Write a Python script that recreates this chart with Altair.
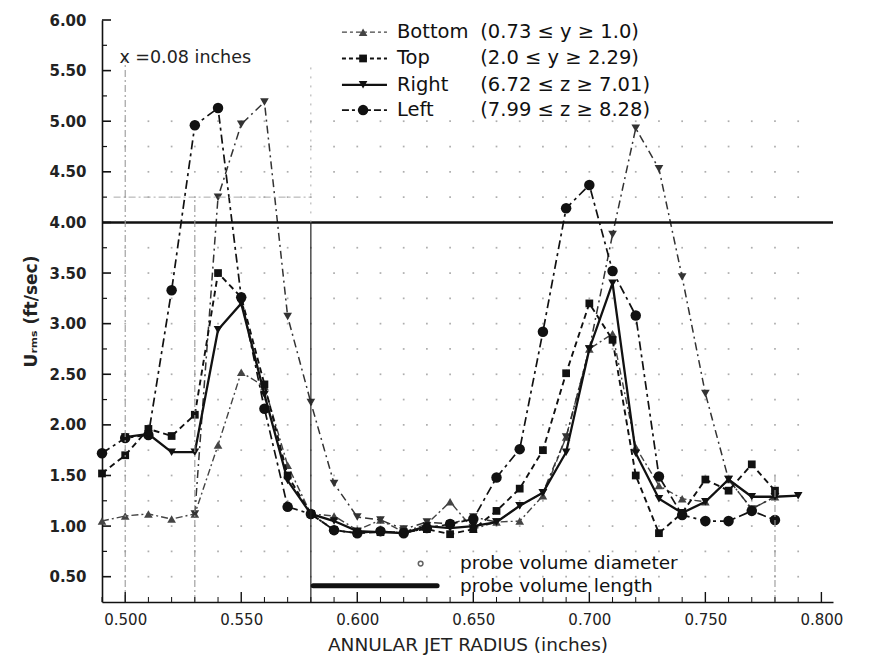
import altair as alt
import pandas as pd

FONT = "DejaVu Sans"
W, H = 731, 582
X_DOMAIN = [0.49, 0.805]
Y_DOMAIN = [0.25, 6.0]

# ---------------- data ----------------
bottom_x = [0.49, 0.50, 0.51, 0.52, 0.53, 0.54, 0.55, 0.56, 0.57, 0.58, 0.59, 0.60, 0.61, 0.62, 0.63,
            0.64, 0.65, 0.66, 0.67, 0.68, 0.69, 0.70, 0.71, 0.72, 0.73, 0.74, 0.75, 0.76, 0.77, 0.78]
bottom_y = [1.05, 1.10, 1.12, 1.07, 1.12, 1.80, 2.52, 2.38, 1.60, 1.12, 1.10, 0.96, 1.06, 0.94, 1.02,
            1.24, 0.97, 1.04, 1.05, 1.30, 1.88, 2.75, 2.90, 1.78, 1.40, 1.27, 1.24, 1.46, 1.17, 1.29]

top_x = [0.49, 0.50, 0.51, 0.52, 0.53, 0.54, 0.55, 0.56, 0.57, 0.58, 0.59, 0.60, 0.61, 0.62, 0.63,
         0.64, 0.65, 0.66, 0.67, 0.68, 0.69, 0.70, 0.71, 0.72, 0.73, 0.74, 0.75, 0.76, 0.77, 0.78]
top_y = [1.52, 1.70, 1.96, 1.89, 2.10, 3.50, 3.26, 2.40, 1.50, 1.12, 0.96, 0.93, 0.94, 0.94, 0.97,
         0.92, 0.97, 1.15, 1.37, 1.75, 2.51, 3.20, 2.84, 1.50, 0.93, 1.13, 1.46, 1.35, 1.61, 1.35]

right_x = [0.50, 0.51, 0.52, 0.53, 0.54, 0.55, 0.56, 0.57, 0.58, 0.59, 0.60, 0.61, 0.62, 0.63, 0.64,
           0.65, 0.66, 0.67, 0.68, 0.69, 0.70, 0.71, 0.72, 0.73, 0.74, 0.75, 0.76, 0.77, 0.78, 0.79]
right_y = [1.88, 1.91, 1.73, 1.73, 2.94, 3.20, 2.30, 1.45, 1.12, 1.05, 0.95, 0.94, 0.93, 1.00, 0.98,
           1.00, 1.04, 1.20, 1.33, 1.73, 2.75, 3.40, 1.72, 1.27, 1.13, 1.24, 1.46, 1.29, 1.29, 1.30]

left_x = [0.49, 0.50, 0.51, 0.52, 0.53, 0.54, 0.55, 0.56, 0.57, 0.58, 0.59, 0.60, 0.61, 0.62, 0.63,
          0.64, 0.65, 0.66, 0.67, 0.68, 0.69, 0.70, 0.71, 0.72, 0.73, 0.74, 0.75, 0.76, 0.77, 0.78]
left_y = [1.72, 1.87, 1.90, 3.33, 4.96, 5.13, 3.26, 2.16, 1.19, 1.12, 0.96, 0.93, 0.95, 0.93, 0.98,
          1.02, 1.07, 1.48, 1.76, 2.92, 4.14, 4.37, 3.52, 3.08, 1.49, 1.11, 1.05, 1.05, 1.15, 1.06]

# second triangle-down trace (dash-dot, high peaks), drawn without a legend entry
peak_x = [0.53, 0.54, 0.55, 0.56, 0.57, 0.58, 0.59, 0.60, 0.61, 0.62, 0.63, 0.64, 0.65,
          0.66, 0.67, 0.68, 0.69, 0.70, 0.71, 0.72, 0.73, 0.74, 0.75, 0.76, 0.77, 0.78]
peak_y = [1.12, 4.25, 4.97, 5.19, 3.07, 2.22, 1.42, 1.09, 1.06, 0.97, 1.04, 1.02, 1.09,
          1.04, 1.20, 1.33, 1.88, 2.75, 3.88, 4.93, 4.53, 3.46, 2.31, 1.46, 1.17, 1.29]

legend_names = ["Bottom", "Top", "Right", "Left"]
legend_ranges = ["(0.73 \u2264 y \u2265 1.0)", "(2.0 \u2264 y \u2265 2.29)",
                 "(6.72 \u2264 z \u2265 7.01)", "(7.99 \u2264 z \u2265 8.28)"]
legend_rows_y = [5.88, 5.62, 5.36, 5.11]
legend_line_x = [0.5934, 0.6128]
legend_mark_x = 0.6025
legend_name_x = 0.6171
legend_range_x = 0.6530

x_labels = [0.50, 0.55, 0.60, 0.65, 0.70, 0.75, 0.80]
y_labels = [0.5, 1.0, 1.5, 2.0, 2.5, 3.0, 3.5, 4.0, 4.5, 5.0, 5.5, 6.0]
y_minor = [0.75, 1.25, 1.75, 2.25, 2.75, 3.25, 3.75, 4.25, 4.75, 5.25, 5.75]
x_minor = [0.49, 0.51, 0.52, 0.53, 0.54, 0.56, 0.57, 0.58, 0.59, 0.61, 0.62, 0.63, 0.64, 0.66, 0.67,
           0.68, 0.69, 0.71, 0.72, 0.73, 0.74, 0.76, 0.77, 0.78, 0.79]
# faint graph-paper dots
paper_x = [0.50, 0.51, 0.52, 0.53, 0.54, 0.55, 0.56, 0.57, 0.58, 0.59, 0.60, 0.61, 0.62, 0.63, 0.64,
           0.65, 0.66, 0.67, 0.68, 0.69, 0.70, 0.71, 0.72, 0.73, 0.74, 0.75, 0.76, 0.77, 0.78, 0.79]
paper_y = [0.50, 0.75, 1.00, 1.25, 1.50, 1.75, 2.00, 2.25, 2.50, 2.75, 3.00, 3.25, 3.50, 3.75,
           4.25, 4.50, 4.75, 5.00]

ref_level = 4.00
note_text = "x =0.08 inches"
note_pos = (0.4975, 5.62)
probe_bar = (0.581, 0.6344, 0.41)
probe_dot = (0.6273, 0.63)
probe_texts = ["probe volume diameter", "probe volume length"]
probe_text_y = [0.635, 0.405]
probe_text_x = 0.6443

# ---------------- scales / axes ----------------
xs = alt.Scale(domain=X_DOMAIN, nice=False, zero=False)
ys = alt.Scale(domain=Y_DOMAIN, nice=False, zero=False)

XA = alt.Axis(values=x_labels, format=".3f", ticks=False, grid=False, domainColor="#111",
              domainWidth=1.6, labelFont=FONT, labelFontSize=15, labelColor="#222",
              labelPadding=10, title="ANNULAR JET RADIUS (inches)", titleFont=FONT,
              titleFontSize=18.5, titleFontWeight="normal", titleColor="#222", titlePadding=8)
YA = alt.Axis(values=y_labels, format=".2f", ticks=False, grid=False, domainColor="#111",
              domainWidth=1.6, labelFont=FONT, labelFontSize=15, labelFontWeight="bold",
              labelColor="#222", labelPadding=16,
              title="U\u1d63\u2098\u209b (ft/sec)", titleFont=FONT, titleFontSize=17,
              titleFontWeight="bold", titleColor="#222", titlePadding=8)


def X(field="x"):
    return alt.X(f"{field}:Q", scale=xs, axis=XA)


def Y(field="y"):
    return alt.Y(f"{field}:Q", scale=ys, axis=YA)


styles = {
    "Bottom": dict(shape="triangle-up", dash=[7, 3, 2, 3], width=1.4, color="#444", size=75),
    "Top": dict(shape="square", dash=[6, 4], width=1.9, color="#111", size=60),
    "Right": dict(shape="triangle-down", dash=None, width=2.3, color="#111", size=75),
    "Left": dict(shape="circle", dash=[9, 4, 3, 4], width=1.7, color="#111", size=110),
    "Peak": dict(shape="triangle-down", dash=[8, 4, 2, 4], width=1.5, color="#333", size=75),
}


def trace(xv, yv, st):
    df = pd.DataFrame({"x": xv, "y": yv})
    kw = dict(color=st["color"], strokeWidth=st["width"])
    if st["dash"]:
        kw["strokeDash"] = st["dash"]
    line = alt.Chart(df).mark_line(**kw).encode(x=X(), y=Y())
    pts = alt.Chart(df).mark_point(shape=st["shape"], filled=True, color=st["color"],
                                   size=st["size"], opacity=1).encode(x=X(), y=Y())
    return line + pts


layers = []

# graph-paper dots (background)
dots = pd.DataFrame([(a, b) for b in paper_y for a in paper_x], columns=["x", "y"])
layers.append(alt.Chart(dots).mark_point(shape="square", filled=True, color="#9a9a9a", size=3,
                                         opacity=0.8).encode(x=X(), y=Y()))

layers.append(trace(bottom_x, bottom_y, styles["Bottom"]))
layers.append(trace(peak_x, peak_y, styles["Peak"]))
layers.append(trace(top_x, top_y, styles["Top"]))
layers.append(trace(left_x, left_y, styles["Left"]))
layers.append(trace(right_x, right_y, styles["Right"]))

# reference horizontal line
layers.append(alt.Chart(pd.DataFrame({"y": [ref_level]})).mark_rule(color="#111", strokeWidth=2.6)
              .encode(y=Y()))

# faint guide lines
guides_v = pd.DataFrame({"x": [0.50, 0.53, 0.78], "y": [0.25, 0.25, 0.25], "y2": [5.65, 4.25, 1.5]})
layers.append(alt.Chart(guides_v).mark_rule(color="#999", strokeWidth=1.1, strokeDash=[7, 3, 2, 3])
              .encode(x=X(), y=Y(), y2="y2:Q"))
layers.append(alt.Chart(pd.DataFrame({"x": [0.58], "y": [0.25], "y2": [4.0]}))
              .mark_rule(color="#222", strokeWidth=1.2).encode(x=X(), y=Y(), y2="y2:Q"))
layers.append(alt.Chart(pd.DataFrame({"x": [0.58], "y": [4.0], "y2": [5.6]}))
              .mark_rule(color="#aaa", strokeWidth=1, strokeDash=[2, 7]).encode(x=X(), y=Y(), y2="y2:Q"))
layers.append(alt.Chart(pd.DataFrame({"x": [0.495], "x2": [0.58], "y": [4.25]}))
              .mark_rule(color="#aaa", strokeWidth=1, strokeDash=[7, 3, 2, 3]).encode(x=X(), x2="x2:Q", y=Y()))

# inward ticks
layers.append(alt.Chart(pd.DataFrame({"y": y_labels})).mark_rule(color="#111", strokeWidth=1.6)
              .encode(y=Y(), x=alt.value(0), x2=alt.value(9)))
layers.append(alt.Chart(pd.DataFrame({"y": y_minor})).mark_rule(color="#111", strokeWidth=1.2)
              .encode(y=Y(), x=alt.value(0), x2=alt.value(5)))
layers.append(alt.Chart(pd.DataFrame({"x": x_labels})).mark_rule(color="#111", strokeWidth=1.4)
              .encode(x=X(), y=alt.value(H), y2=alt.value(H - 10)))
layers.append(alt.Chart(pd.DataFrame({"x": x_minor})).mark_rule(color="#111", strokeWidth=1)
              .encode(x=X(), y=alt.value(H), y2=alt.value(H - 5)))

# annotation text
layers.append(alt.Chart(pd.DataFrame({"x": [note_pos[0]], "y": [note_pos[1]], "t": [note_text]}))
              .mark_text(font=FONT, fontSize=17.5, align="left", baseline="middle", color="#222")
              .encode(x=X(), y=Y(), text="t:N"))

# probe volume annotation
layers.append(alt.Chart(pd.DataFrame({"x": [probe_bar[0]], "x2": [probe_bar[1]], "y": [probe_bar[2]]}))
              .mark_rule(color="#111", strokeWidth=5, strokeCap="round").encode(x=X(), x2="x2:Q", y=Y()))
layers.append(alt.Chart(pd.DataFrame({"x": [probe_dot[0]], "y": [probe_dot[1]]}))
              .mark_point(shape="circle", size=22, color="#222", strokeWidth=1.5).encode(x=X(), y=Y()))
layers.append(alt.Chart(pd.DataFrame({"x": [probe_text_x] * 2, "y": probe_text_y, "t": probe_texts}))
              .mark_text(font=FONT, fontSize=18.5, align="left", baseline="middle", color="#111")
              .encode(x=X(), y=Y(), text="t:N"))

# manual legend
for name, rng, ly in zip(legend_names, legend_ranges, legend_rows_y):
    st = styles[name]
    kw = dict(color=st["color"], strokeWidth=st["width"])
    if st["dash"]:
        kw["strokeDash"] = [max(3, d - 2) for d in st["dash"]]
    ldf = pd.DataFrame({"x": legend_line_x, "y": [ly, ly]})
    layers.append(alt.Chart(ldf).mark_line(**kw).encode(x=X(), y=Y()))
    layers.append(alt.Chart(pd.DataFrame({"x": [legend_mark_x], "y": [ly]}))
                  .mark_point(shape=st["shape"], filled=True, color=st["color"], size=st["size"], opacity=1)
                  .encode(x=X(), y=Y()))
    layers.append(alt.Chart(pd.DataFrame({"x": [legend_name_x, legend_range_x], "y": [ly, ly],
                                          "t": [name, rng]}))
                  .mark_text(font=FONT, fontSize=19.5, align="left", baseline="middle", color="#111")
                  .encode(x=X(), y=Y(), text="t:N"))

chart = alt.layer(*layers).properties(
    width=W, height=H,
    autosize=alt.AutoSizeParams(type="none"),
    padding={"left": 94, "top": 12, "right": 28, "bottom": 55},
    background="white",
).configure_view(stroke=None)

chart.save("out.html", embed_options={"renderer": "svg", "actions": False})
